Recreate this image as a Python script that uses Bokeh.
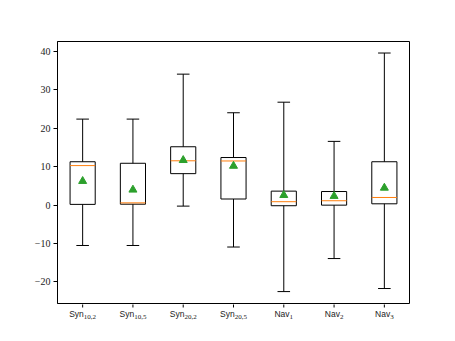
from bokeh.plotting import figure
from bokeh.layouts import column
from bokeh.models import FixedTicker, Range1d, ColumnDataSource
from bokeh.core.properties import value
from bokeh.embed import file_html
from bokeh.resources import INLINE

# ---- data ----
label_base = ["Syn", "Syn", "Syn", "Syn", "Nav", "Nav", "Nav"]
label_sub = ["10,2", "10,5", "20,2", "20,5", "1", "2", "3"]
whisker_low = [-10.5, -10.5, -0.25, -10.9, -22.5, -13.9, -21.7]
q1 = [0.2, 0.25, 8.2, 1.6, -0.15, 0.0, 0.35]
median = [10.3, 0.6, 11.55, 11.5, 0.9, 1.15, 2.0]
q3 = [11.3, 10.9, 15.2, 12.4, 3.65, 3.55, 11.3]
whisker_high = [22.4, 22.4, 34.1, 24.05, 26.8, 16.6, 39.6]
mean = [6.25, 4.0, 11.7, 10.2, 2.6, 2.35, 4.5]
y_ticks = [-20, -10, 0, 10, 20, 30, 40]

pos = list(range(1, len(median) + 1))
box_w = 0.5
cap_w = 0.25

src = ColumnDataSource(dict(
    x=pos,
    left=[p - box_w / 2 for p in pos],
    right=[p + box_w / 2 for p in pos],
    cap_l=[p - cap_w / 2 for p in pos],
    cap_r=[p + cap_w / 2 for p in pos],
    wl=whisker_low, q1=q1, med=median, q3=q3, wh=whisker_high, mean=mean,
))

Y0, Y1 = -25.6, 42.6
W = 447
LEFT, RIGHT, TOP = 57, 38, 41
FRAME_H = 262
BOTTOM = 1
MAIN_H = TOP + FRAME_H + BOTTOM
LAB_H = 341 - MAIN_H
TICK_LEN = 4

p = figure(width=W, height=MAIN_H, output_backend="svg", toolbar_location=None,
           x_range=Range1d(0.5, 7.5), y_range=Range1d(Y0, Y1),
           min_border_left=LEFT, min_border_right=RIGHT, min_border_top=TOP,
           min_border_bottom=BOTTOM)
p.grid.visible = False
p.outline_line_color = "black"
p.outline_line_width = 1
p.background_fill_color = "white"
p.border_fill_color = "white"
p.xaxis.visible = False

ya = p.yaxis[0]
ya.axis_line_color = "black"
ya.axis_line_width = 1
ya.major_tick_line_color = "black"
ya.major_tick_line_width = 1
ya.major_tick_in = 0
ya.major_tick_out = TICK_LEN
ya.minor_tick_line_color = None
ya.ticker = FixedTicker(ticks=y_ticks)
ya.major_label_overrides = {t: (str(t).replace("-", "\u2212")) for t in y_ticks}
ya.major_label_text_font = "Liberation Serif"
ya.major_label_text_font_size = "10px"
ya.major_label_text_color = "#222222"
ya.major_label_standoff = 3

# whiskers
p.segment(x0="x", y0="wl", x1="x", y1="q1", source=src, line_color="black", line_width=1)
p.segment(x0="x", y0="q3", x1="x", y1="wh", source=src, line_color="black", line_width=1)
# caps
p.segment(x0="cap_l", y0="wl", x1="cap_r", y1="wl", source=src, line_color="black", line_width=1)
p.segment(x0="cap_l", y0="wh", x1="cap_r", y1="wh", source=src, line_color="black", line_width=1)
# boxes
p.quad(left="left", right="right", bottom="q1", top="q3", source=src,
       fill_color=None, line_color="black", line_width=1)
# medians
p.segment(x0="left", y0="med", x1="right", y1="med", source=src,
          line_color="#ff7f0e", line_width=1)
# means
p.scatter(x="x", y="mean", source=src, marker="triangle", size=8,
          fill_color="#2ca02c", line_color="#2ca02c")

# ---- x ticks and tick labels (with subscripts) in a strip below, sharing the x range ----
BASE_PX, SUB_PX = 8.5, 7.0
base_em = {"S": 0.667, "y": 0.5, "n": 0.556, "N": 0.722, "a": 0.556, "v": 0.5}
sub_em = {",": 0.25}
offs = []
for b, s in zip(label_base, label_sub):
    wb = sum(base_em.get(c, 0.55) for c in b) * BASE_PX
    ws = sum(sub_em.get(c, 0.5) for c in s) * SUB_PX
    offs.append((wb - ws) / 2)

lsrc = ColumnDataSource(dict(x=pos, base=label_base, sub=label_sub, off=offs))

lab = figure(width=W, height=LAB_H, output_backend="svg", toolbar_location=None,
             x_range=p.x_range, y_range=Range1d(0, LAB_H),
             min_border_left=LEFT, min_border_right=RIGHT, min_border_top=0,
             min_border_bottom=0)
lab.axis.visible = False
lab.grid.visible = False
lab.outline_line_color = None
lab.background_fill_color = "white"
lab.border_fill_color = "white"

# tick marks hanging below the main frame
lab.segment(x0="x", y0=LAB_H + 1, x1="x", y1=LAB_H - (TICK_LEN - 1), source=lsrc,
            line_color="black", line_width=1)

base_y = LAB_H - (313.5 - MAIN_H)
sub_y = LAB_H - (316.5 - MAIN_H)
lab.text(x="x", y=base_y, text="base", x_offset="off", source=lsrc,
         text_align="right", text_baseline="alphabetic",
         text_font=value("Liberation Sans"), text_font_size=value(f"{BASE_PX}px"),
         text_color="#222222")
lab.text(x="x", y=sub_y, text="sub", x_offset="off", source=lsrc,
         text_align="left", text_baseline="alphabetic",
         text_font=value("Liberation Serif"), text_font_size=value(f"{SUB_PX}px"),
         text_color="#222222")

layout = column(p, lab, spacing=0)
open("out.html", "w").write(file_html(layout, INLINE))
